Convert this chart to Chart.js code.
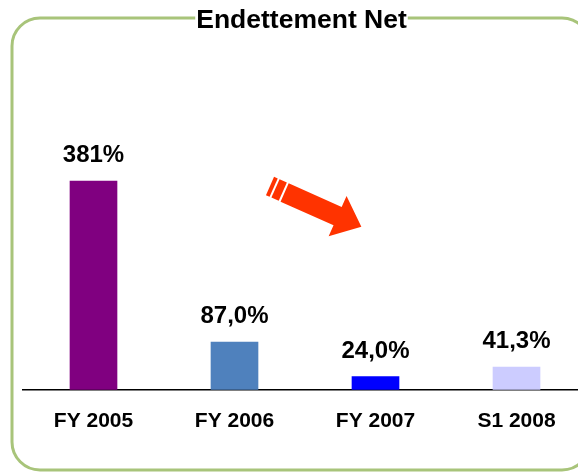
<!DOCTYPE html>
<html>
<head>
<meta charset="utf-8">
<script src="https://cdn.jsdelivr.net/npm/chart.js@4/dist/chart.umd.min.js"></script>
<style>
    html, body { margin: 0; padding: 0; background: #fff; overflow: hidden; }
    #wrap { width: 592px; height: 473px; }
</style>
</head>
<body>
<div id="wrap"><canvas id="chart"></canvas></div>
<script>
const categories = ["FY 2005", "FY 2006", "FY 2007", "S1 2008"];
const values = [381, 87.0, 24.0, 41.3];
const valueLabels = ["381%", "87,0%", "24,0%", "41,3%"];
const barColors = ["#800080", "#4F81BD", "#0000FF", "#CCCCFF"];
const titleText = "Endettement Net";

const FONT = "'Liberation Sans', Arial, sans-serif";

// rounded green frame + title sitting on its top edge
const framePlugin = {
    id: "frame",
    beforeDraw(chart) {
        const ctx = chart.ctx;
        const x = 12, y = 18, w = 578, h = 452, r = 28;
        ctx.save();
        ctx.strokeStyle = "#A8C47A";
        ctx.lineWidth = 3;
        ctx.beginPath();
        ctx.moveTo(x + r, y);
        ctx.arcTo(x + w, y, x + w, y + h, r);
        ctx.arcTo(x + w, y + h, x, y + h, r);
        ctx.arcTo(x, y + h, x, y, r);
        ctx.arcTo(x, y, x + w, y, r);
        ctx.closePath();
        ctx.stroke();

        ctx.font = "bold 26.5px " + FONT;
        const tw = ctx.measureText(titleText).width;
        const cx = 301.5;
        ctx.fillStyle = "#fff";
        ctx.fillRect(cx - tw / 2 - 1, y - 4, tw + 2, 8);
        ctx.fillStyle = "#000";
        ctx.textAlign = "center";
        ctx.textBaseline = "alphabetic";
        ctx.fillText(titleText, cx, 28);
        ctx.restore();
    },
};

// value labels above bars and the decorative arrow
const labelPlugin = {
    id: "valueLabels",
    afterDatasetsDraw(chart) {
        const ctx = chart.ctx;
        const meta = chart.getDatasetMeta(0);
        ctx.save();
        ctx.font = "bold 24px " + FONT;
        ctx.fillStyle = "#000";
        ctx.textAlign = "center";
        ctx.textBaseline = "alphabetic";
        meta.data.forEach((bar, i) => {
            ctx.fillText(valueLabels[i], bar.x, bar.y - 19);
        });

        // red arrow pointing down-right
        ctx.translate(270, 186);
        ctx.rotate(24 * Math.PI / 180);
        ctx.fillStyle = "#FF3300";
        const hw = 10;
        ctx.fillRect(0, -hw, 4, hw * 2);
        ctx.fillRect(6, -hw, 8, hw * 2);
        ctx.beginPath();
        ctx.moveTo(16, -hw);
        ctx.lineTo(74, -hw);
        ctx.lineTo(74, -22);
        ctx.lineTo(100, 0);
        ctx.lineTo(74, 22);
        ctx.lineTo(74, hw);
        ctx.lineTo(16, hw);
        ctx.closePath();
        ctx.fill();
        ctx.restore();
    },
};

new Chart(document.getElementById("chart"), {
    type: "bar",
    data: {
        labels: categories,
        datasets: [{
            data: values,
            backgroundColor: barColors,
            borderWidth: 0,
            barThickness: 47,
        }],
    },
    options: {
        responsive: true,
        maintainAspectRatio: false,
        animation: false,
        layout: {
            padding: { top: 50, left: 23, right: 5, bottom: 28 },
        },
        plugins: {
            legend: { display: false },
            title: { display: false },
            tooltip: { enabled: false },
        },
        scales: {
            x: {
                grid: { display: false },
                border: { display: true, color: "#000", width: 1.5 },
                ticks: {
                    color: "#000",
                    padding: 11,
                    font: { family: FONT, size: 21, weight: "bold" },
                },
            },
            y: {
                display: false,
                min: 0,
                max: 620,
            },
        },
    },
    plugins: [framePlugin, labelPlugin],
});
</script>
</body>
</html>
